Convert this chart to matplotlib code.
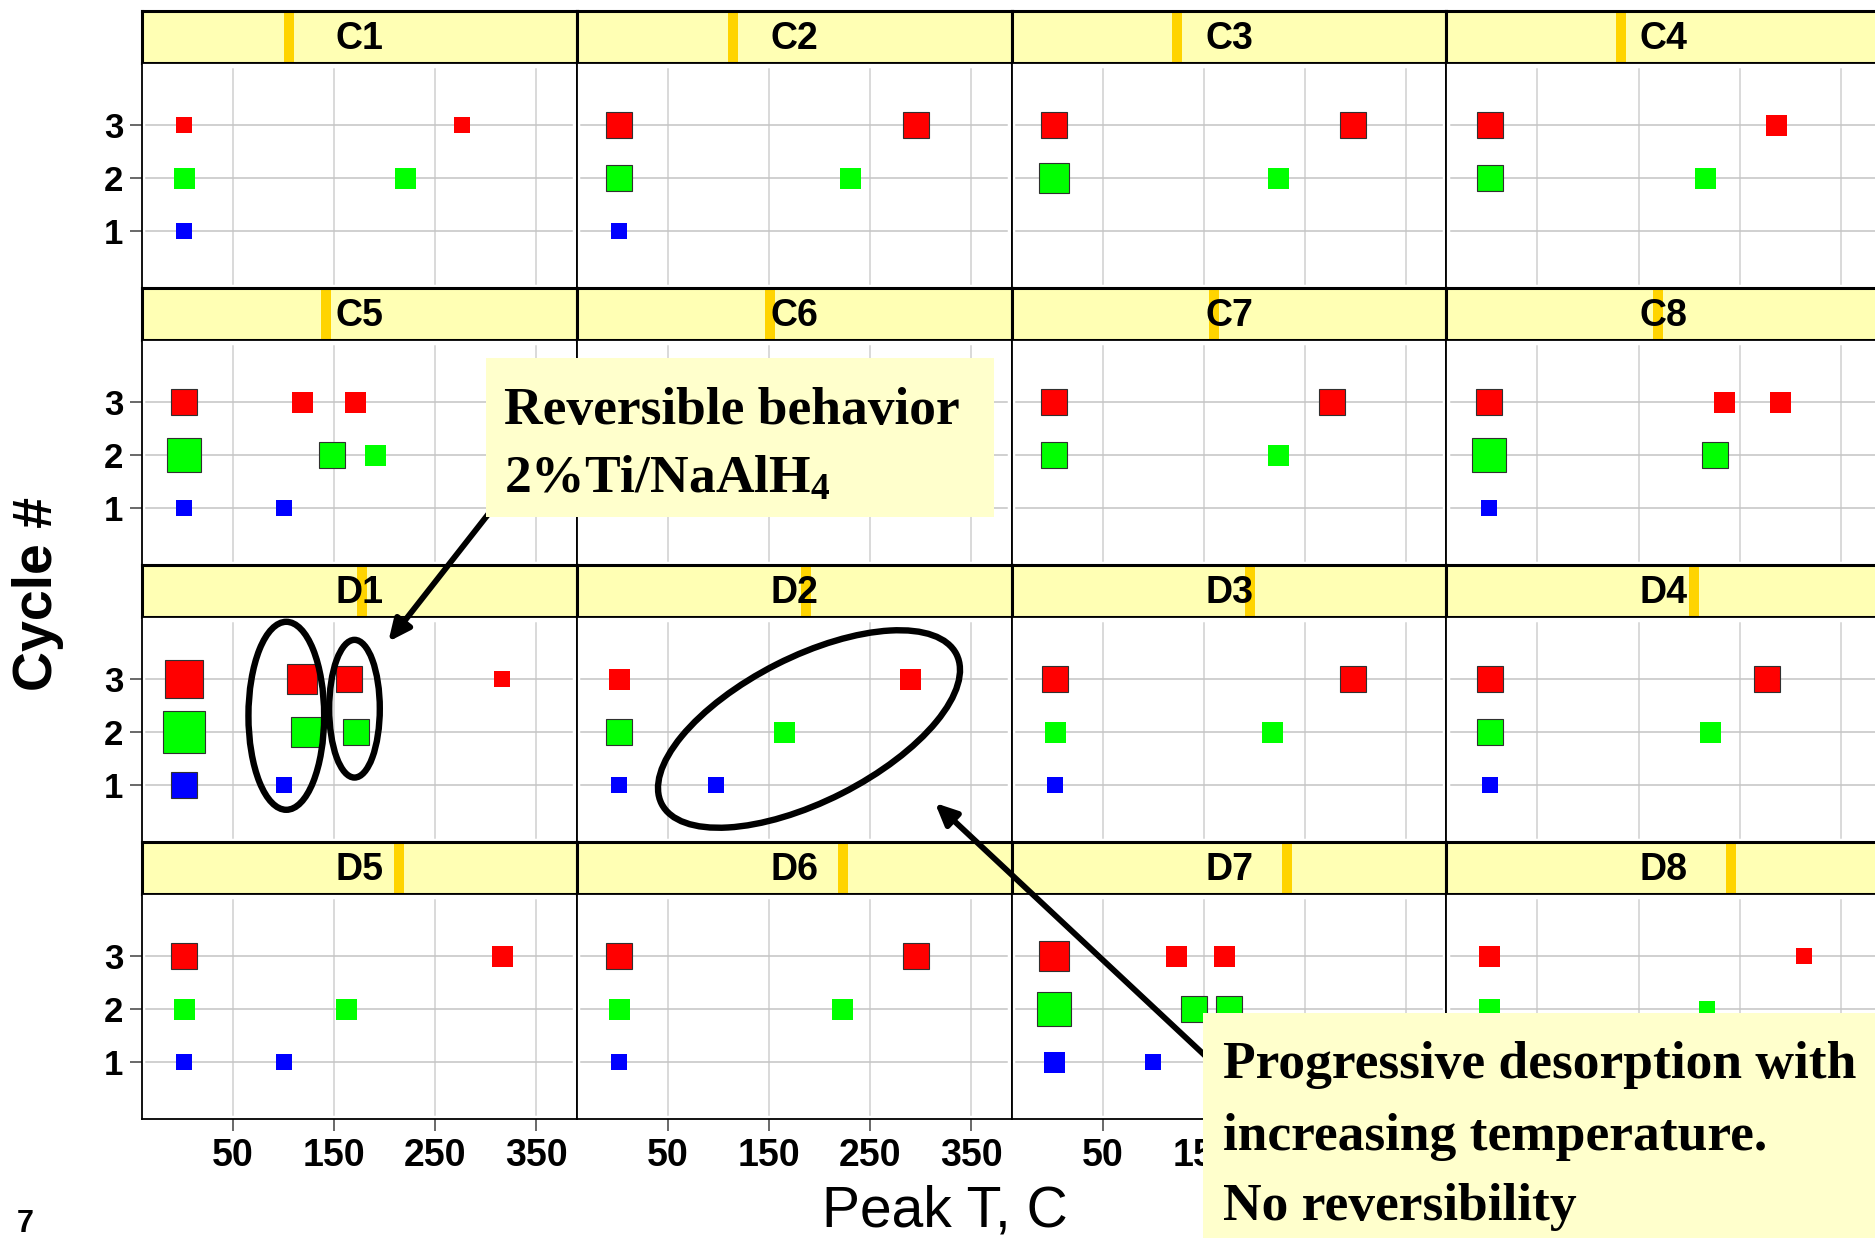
import matplotlib
matplotlib.use("Agg")
import matplotlib.pyplot as plt
from matplotlib.patches import Rectangle, Ellipse, FancyArrowPatch
from matplotlib.transforms import IdentityTransform, Bbox

W, H = 1875, 1238

plt.rcParams["font.family"] = ["Liberation Sans", "DejaVu Sans"]
plt.rcParams["mathtext.fontset"] = "custom"
plt.rcParams["mathtext.rm"] = "Liberation Serif:bold"
plt.rcParams["mathtext.it"] = "Liberation Serif:bold"
plt.rcParams["mathtext.bf"] = "Liberation Serif:bold"

# each panel: (peak T [C], cycle #, peak size)
C1 = [(2, 3, 4), (276, 3, 4), (2, 2, 5), (220, 2, 5), (2, 1, 4)]
C2 = [(2, 3, 6), (295, 3, 6), (2, 2, 6), (230, 2, 5), (2, 1, 4)]
C3 = [(2, 3, 6), (298, 3, 6), (2, 2, 7), (223, 2, 5)]
C4 = [(3, 3, 6), (286, 3, 5), (3, 2, 6), (216, 2, 5)]
C5 = [(2, 3, 6), (118, 3, 5), (171, 3, 5), (2, 2, 8), (148, 2, 6), (190, 2, 5),
      (2, 1, 4), (100, 1, 4)]
C6 = []  # hidden under the callout
C7 = [(2, 3, 6), (277, 3, 6), (2, 2, 6), (223, 2, 5)]
C8 = [(2, 3, 6), (235, 3, 5), (290, 3, 5), (2, 2, 8), (226, 2, 6), (2, 1, 4)]
D1 = [(2, 3, 9), (118, 3, 7), (165, 3, 6), (316, 3, 4), (2, 2, 10), (122, 2, 7),
      (172, 2, 6), (2, 1, 6), (100, 1, 4)]
D2 = [(2, 3, 5), (290, 3, 5), (2, 2, 6), (165, 2, 5), (2, 1, 4), (98, 1, 4)]
D3 = [(3, 3, 6), (298, 3, 6), (3, 2, 5), (218, 2, 5), (3, 1, 4)]
D4 = [(3, 3, 6), (277, 3, 6), (3, 2, 6), (221, 2, 5), (3, 1, 4)]
D5 = [(2, 3, 6), (316, 3, 5), (2, 2, 5), (162, 2, 5), (2, 1, 4), (100, 1, 4)]
D6 = [(2, 3, 6), (295, 3, 6), (2, 2, 5), (222, 2, 5), (2, 1, 4)]
D7 = [(2, 3, 7), (123, 3, 5), (170, 3, 5), (2, 2, 8), (140, 2, 6), (175, 2, 6),
      (2, 1, 5), (100, 1, 4)]
D8 = [(2, 3, 5), (314, 3, 4), (2, 2, 5), (218, 2, 4)]

names = ["C1", "C2", "C3", "C4", "C5", "C6", "C7", "C8",
         "D1", "D2", "D3", "D4", "D5", "D6", "D7", "D8"]
panels = [C1, C2, C3, C4, C5, C6, C7, C8, D1, D2, D3, D4, D5, D6, D7, D8]
cycle_colors = {1: "#0000ff", 2: "#00ff00", 3: "#ff0000"}
xticks = [50, 150, 250, 350]
yticks = [1, 2, 3]

fig = plt.figure(figsize=(W / 100, H / 100), dpi=100)


def rect(x, y, w, h):
    # pixel box (top-left origin) -> figure fraction
    return [x / W, 1 - (y + h) / H, w / W, h / H]


def d(x, y):
    # pixel (top-left origin) -> display coords
    return (x, H - y)


px = IdentityTransform()
box2_left = 1202.5

col_w, row_h, strip_h = 434.8, 277, 52
for i, (name, pts) in enumerate(zip(names, panels)):
    r, c = divmod(i, 4)
    x0 = 142 + c * col_w
    y0 = 11 + r * row_h

    st = fig.add_axes(rect(x0, y0, col_w, strip_h))
    st.set_facecolor("#ffffb4")
    st.set_xlim(0, 1)
    st.set_ylim(0, 1)
    st.set_xticks([])
    st.set_yticks([])
    for s in st.spines.values():
        s.set_linewidth(2.2)
    bx = 0.338 + 0.0211 * i
    st.axvspan(bx - 0.0115, bx + 0.0115, color="#ffd400", lw=0)
    st.text(0.5, 0.47, name, ha="center", va="center", fontsize=27,
            fontweight="bold", zorder=5)

    ax = fig.add_axes(rect(x0, y0 + strip_h, col_w, row_h - strip_h))
    ax.set_xlim(-40, 390)
    ax.set_ylim(-0.07, 4.18)
    for t in xticks:
        ax.axvline(t, ymin=0.02, ymax=0.975, color="#d0d0d0", lw=1.1, zorder=1)
    for t in yticks:
        ax.axhline(t, xmin=0.01, xmax=0.99, color="#c4c4c4", lw=1.1, zorder=1)
    for T, cyc, amt in pts:
        col = cycle_colors[cyc]
        edged = amt >= 6
        ax.plot(T, cyc, ls="none", marker="s", ms=amt * 4.2 * 0.72,
                mfc=col, mec="#303030" if edged else col,
                mew=0.8 if edged else 0, zorder=3)
    ax.set_xticks(xticks)
    ax.set_yticks(yticks)
    ax.tick_params(direction="out", length=8.6, width=1.1, color="#404040",
                   labelsize=27, pad=5)
    ax.tick_params(axis="y", labelsize=25)
    for s in ax.spines.values():
        s.set_linewidth(1.3)
    if r < 3:
        ax.tick_params(axis="x", bottom=False, labelbottom=False)
    if c > 0:
        ax.tick_params(axis="y", left=False, labelleft=False)
    if r == 3 and c == 3:
        # fully under the lower callout
        ax.set_xticklabels([])
    if r == 3 and c == 2:
        # only the first labels peek out from under the lower callout
        ax.set_xticklabels(["50", "150", "", ""])
    for lab in ax.get_xticklabels() + ax.get_yticklabels():
        lab.set_fontweight("bold")
    if r == 3 and c == 2:
        clip = Bbox.from_extents(0, 0, box2_left, H)
        for lab in ax.get_xticklabels():
            lab.set_clip_box(clip)
            lab.set_clip_on(True)

fig.text(945 / W, 1 - 1227 / H, "Peak T, C", ha="center", va="baseline",
         fontsize=41)
fig.text(38 / W, 1 - 594 / H, "Cycle #", ha="center", va="center",
         rotation=90, fontsize=40, fontweight="bold")
fig.text(25 / W, 1 - 1232 / H, "7", ha="center", va="baseline", fontsize=22,
         fontweight="bold")

# hand-drawn highlights
for (cx, cy), w, h, ang in [((286.3, 715.8), 75.7, 188, 0),
                             ((354.5, 708.7), 50.6, 137.7, 0),
                             ((809, 729), 330.6, 144.6, 26.9)]:
    fig.add_artist(Ellipse(d(cx, cy), w, h, angle=ang, fill=False, ec="black",
                           lw=4.6, transform=px, zorder=4))

for a, b in [((497, 503), (388.3, 641.7)), ((1214, 1064), (935, 803))]:
    fig.add_artist(FancyArrowPatch(d(*a), d(*b),
                                   arrowstyle="-|>,head_length=1.3,head_width=0.6",
                                   mutation_scale=10, lw=4.2, color="black",
                                   shrinkA=0, shrinkB=0, transform=px, zorder=4))

# callouts
fig.add_artist(Rectangle(d(486, 517.3), 508.2, 159, fc="#ffffcc", ec="none",
                         transform=px, zorder=5))
fig.add_artist(Rectangle(d(box2_left, 1250), 700, 236.7, fc="#ffffcc", ec="none",
                         transform=px, zorder=5))
serif = dict(family="Liberation Serif", fontweight="bold", fontsize=38.5,
             transform=px, zorder=6, va="baseline", ha="left")
fig.text(*d(504, 424), "Reversible behavior", **serif)
fig.text(*d(504, 493), r"2%Ti/NaAlH$_4$", **serif)
fig.text(*d(1223, 1078), "Progressive desorption with", **serif)
fig.text(*d(1223, 1150), "increasing temperature.", **serif)
fig.text(*d(1223, 1220), "No reversibility", **serif)

fig.savefig("out.png", dpi=100)
